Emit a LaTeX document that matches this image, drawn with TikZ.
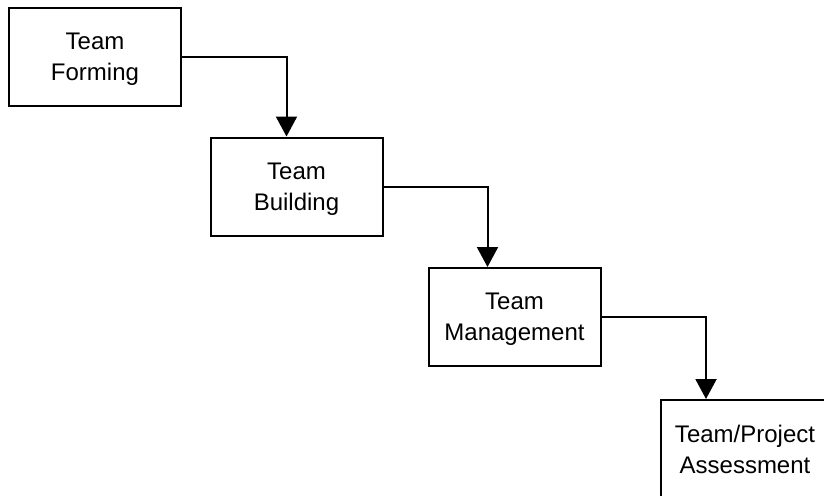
\documentclass[tikz,border=0pt]{standalone}
\usepackage{fontspec}
\setmainfont{Liberation Sans}
\usetikzlibrary{arrows.meta}
\begin{document}
\begin{tikzpicture}[x=1pt,y=-1pt,
  stage/.style={shape=rectangle,draw=black,line width=2pt,align=center,
    minimum width=172pt,minimum height=98pt,inner sep=0pt,text depth=0pt,
    font=\fontsize{24}{31}\selectfont},
  flow/.style={line width=2pt,-{Triangle[length=20pt,width=21pt]}}]
  \useasboundingbox (0,0) rectangle (824,495);
  \clip (0,0) rectangle (824,495);
  \node[stage] (forming) at (95,57) {Team\\Forming};
  \node[stage] (building) at (296.5,186.5) {Team\\Building};
  \node[stage] (management) at (514.5,317) {Team\\Management};
  \node[stage,minimum width=168pt] (assessment) at (745,449) {Team/Project\\Assessment};
  \draw[flow] (forming.east) -| ([xshift=77pt]building.north west);
  \draw[flow] (building.east) -| ([xshift=60pt]management.north west);
  \draw[flow] (management.east) -| ([xshift=46pt]assessment.north west);
\end{tikzpicture}
\end{document}
